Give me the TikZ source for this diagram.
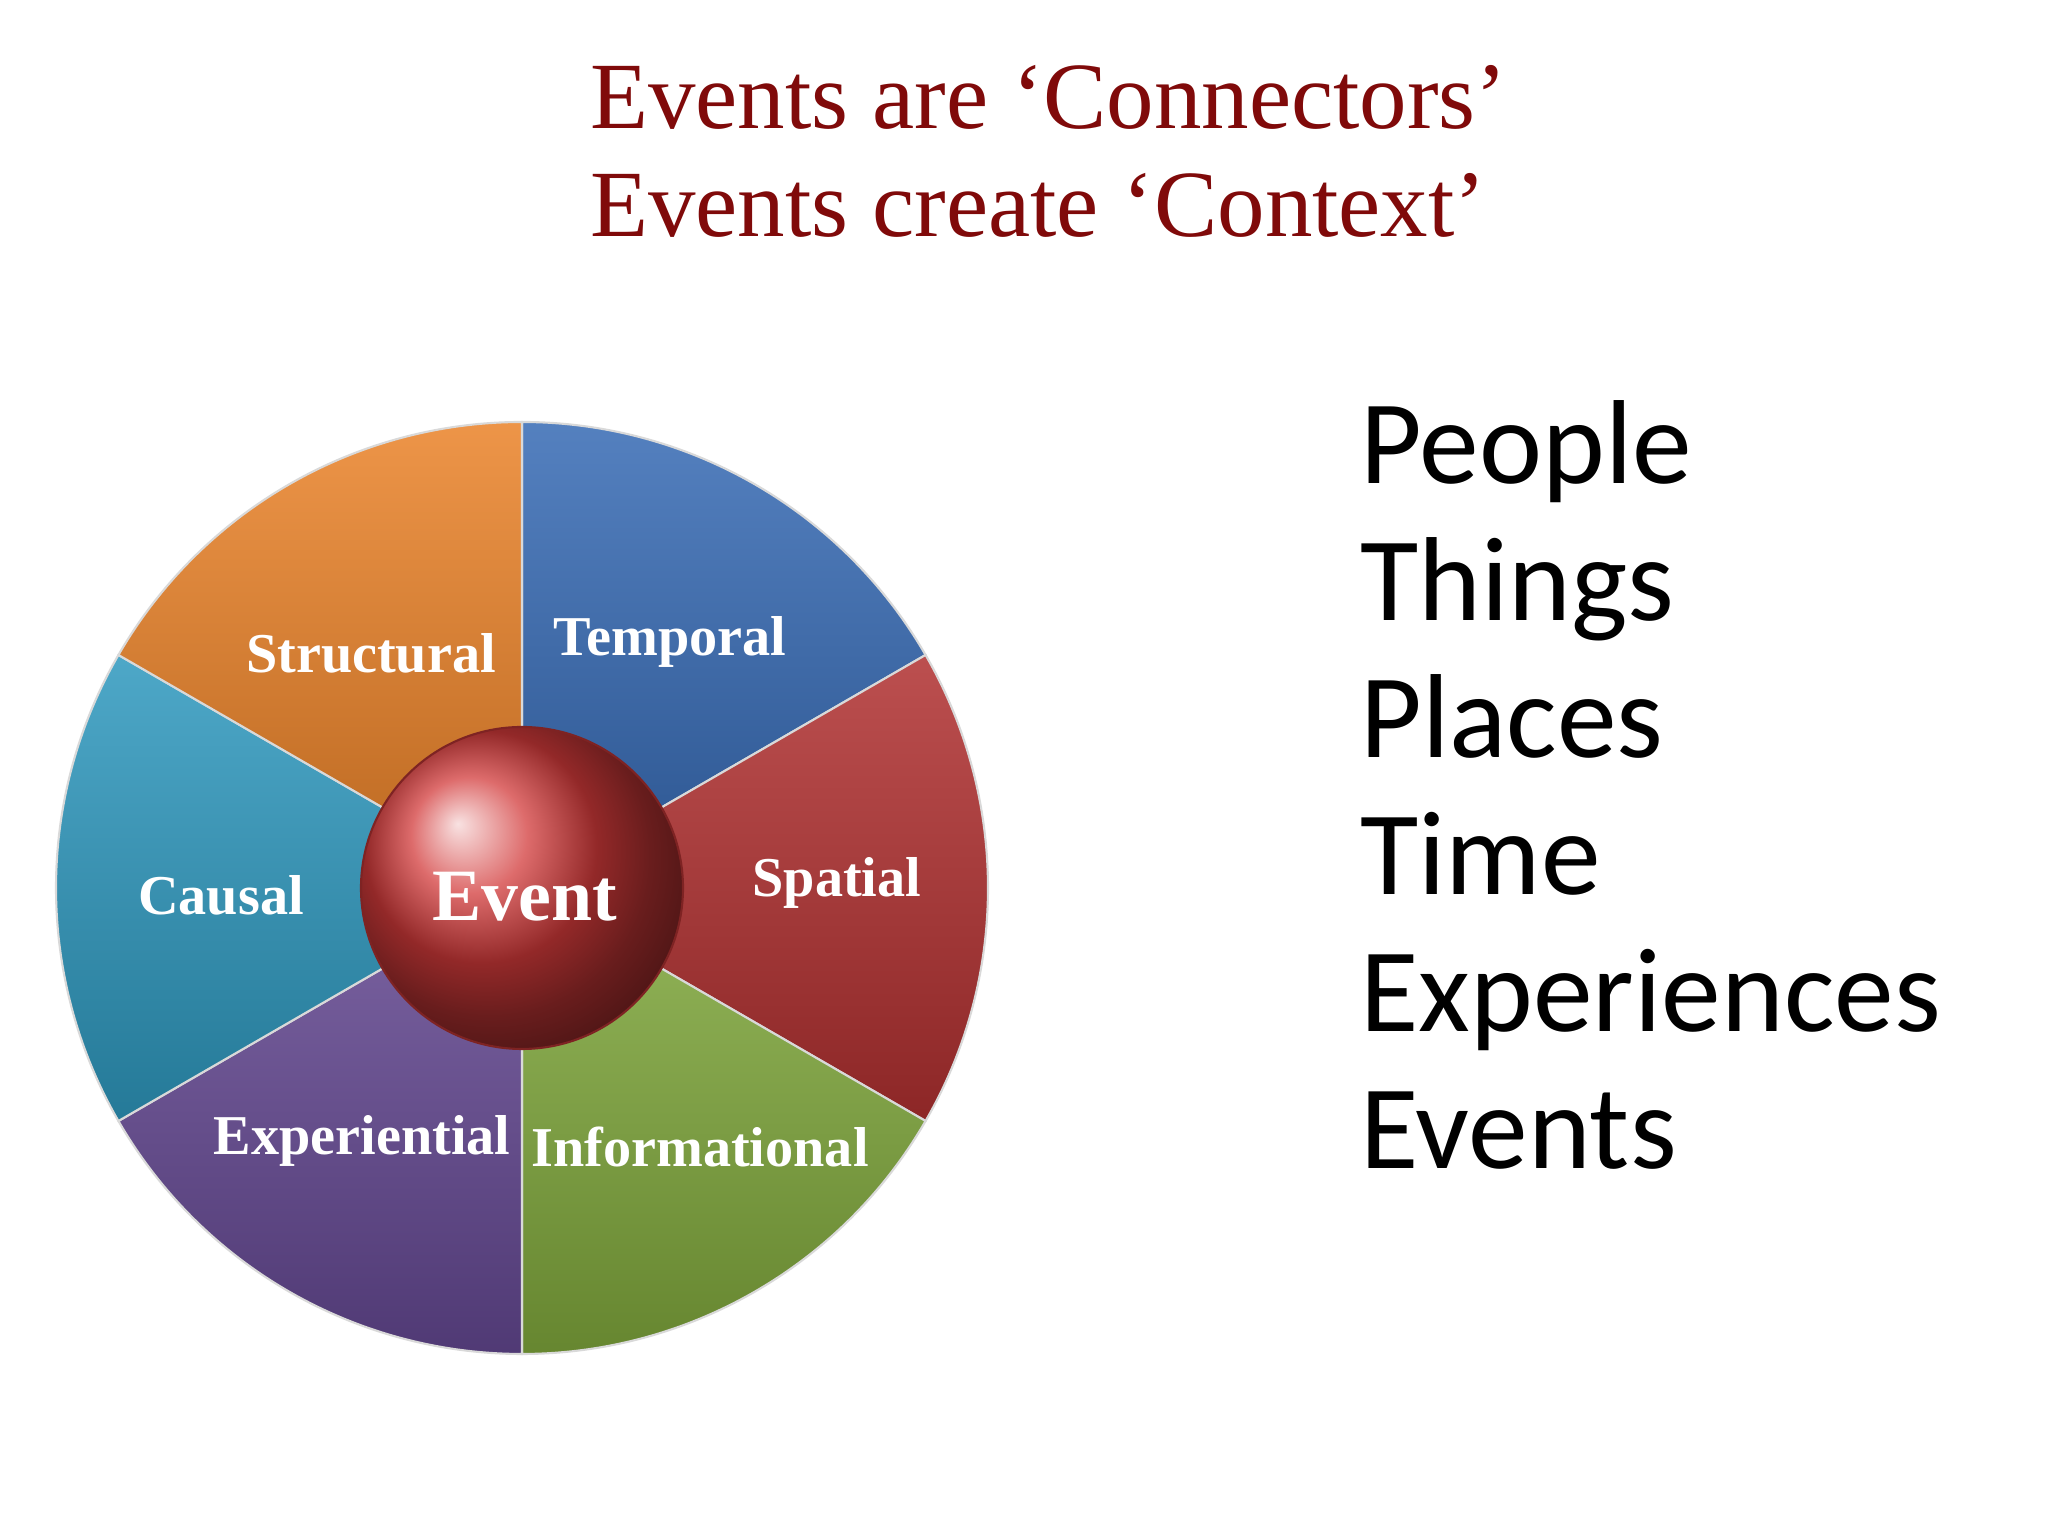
\documentclass[tikz,border=0pt]{standalone}
\usepackage{fontspec}
\setmainfont{Liberation Serif}
\newfontfamily\listfont{Carlito}
\begin{document}
\begin{tikzpicture}[x=1cm,y=1cm,
  seg/.style={draw=white!85!black,line width=0.6pt},
  lab/.style={text=white,font=\bfseries\fontsize{16}{18}\selectfont},
  item/.style={anchor=base west,font=\listfont\fontsize{34}{38}\selectfont}]
\useasboundingbox (0,0) rectangle (20.48,15.36);
\definecolor{cblue}{RGB}{54,106,180}
\definecolor{cred}{RGB}{176,48,48}
\definecolor{cgreen}{RGB}{128,168,60}
\definecolor{cpurple}{RGB}{100,72,146}
\definecolor{ccyan}{RGB}{46,152,190}
\definecolor{corange}{RGB}{234,130,40}
\definecolor{cevent}{RGB}{210,58,58}
\definecolor{ttl}{RGB}{128,10,10}
\coordinate (c) at (5.22,6.48);
\def\R{4.66}
\foreach \a/\b/\col in {30/90/cblue,-30/30/cred,-90/-30/cgreen,210/270/cpurple,150/210/ccyan,90/150/corange}{
  \draw[seg,top color=\col!85!white,bottom color=\col!80!black] (c) -- ++(\a:\R) arc (\a:\b:\R) -- cycle;
}
\node[circle,minimum size=3.22cm,inner sep=0pt,draw=cevent!60!black,line width=0.6pt,ball color=cevent,shading=ball] (ev) at (c) {};
\node[lab,font=\bfseries\fontsize{21}{24}\selectfont] (evl) at (5.25,6.39) {Event};
\node[lab] (tp) at (6.70,8.94) {Temporal};
\node[lab] (st) at (3.71,8.83) {Structural};
\node[lab] (sp) at (8.37,6.53) {Spatial};
\node[lab] (ca) at (2.21,6.41) {Causal};
\node[lab] (ex) at (3.62,3.95) {Experiential};
\node[lab] (in) at (7.00,3.89) {Informational};
\node[text=ttl,font=\fontsize{27}{32}\selectfont,anchor=base west] (t1) at (5.78,14.07) {Events are ‘Connectors’};
\node[text=ttl,font=\fontsize{27}{32}\selectfont,anchor=base west] (t2) at (5.78,12.99) {Events create ‘Context’};
\node[item] (p1) at (13.48,10.52) {People};
\node[item] (p2) at (13.48,9.15) {Things};
\node[item] (p3) at (13.48,7.78) {Places};
\node[item] (p4) at (13.48,6.41) {Time};
\node[item] (p5) at (13.48,5.04) {Experiences};
\node[item] (p6) at (13.48,3.67) {Events};
\end{tikzpicture}
\end{document}
